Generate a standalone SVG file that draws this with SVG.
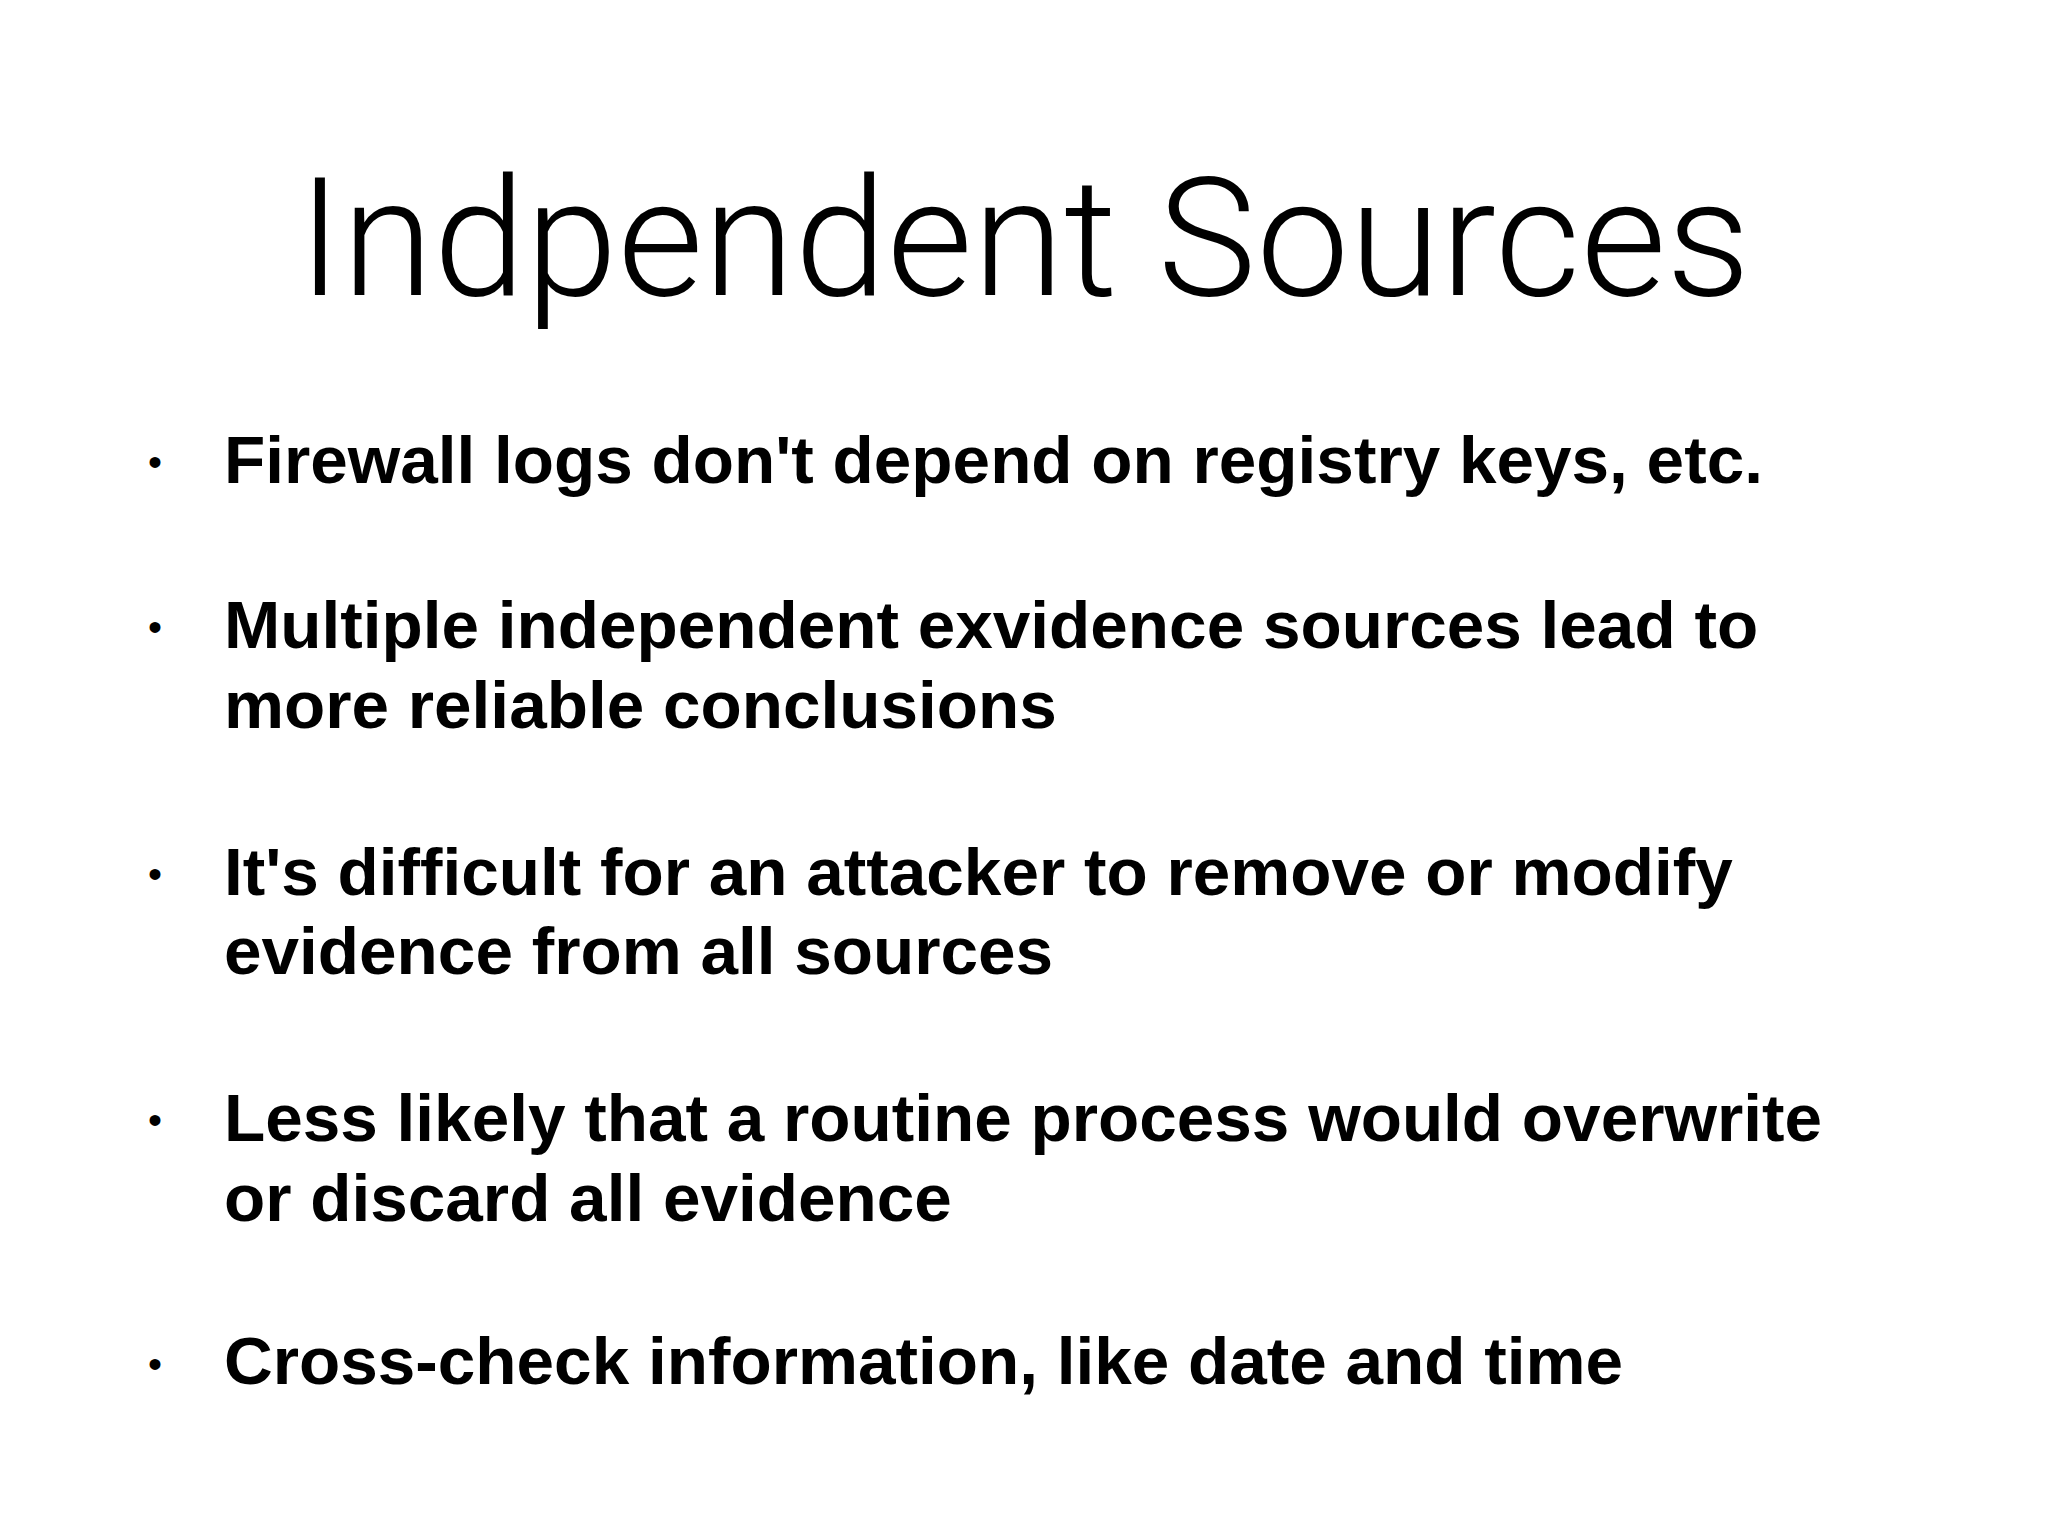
<svg xmlns="http://www.w3.org/2000/svg" width="2048" height="1536" viewBox="0 0 2048 1536">
<style>
.t{font-family:Roboto,"Liberation Sans",sans-serif;font-weight:300;font-size:166px;fill:#000}
.b{font-family:"Liberation Sans",Arial,sans-serif;font-weight:bold;font-size:67.5px;fill:#000}
.d{font-family:"Liberation Sans",Arial,sans-serif;font-size:40px;fill:#000}
</style>
<rect width="2048" height="1536" fill="#fff"/>
<text class="t" x="1024" y="295" text-anchor="middle">Indpendent Sources</text>
<g class="d">
<text x="148" y="476">•</text>
<text x="148" y="641">•</text>
<text x="148" y="888">•</text>
<text x="148" y="1134">•</text>
<text x="148" y="1378">•</text>
</g>
<g class="b">
<text x="224" y="483">Firewall logs don't depend on registry keys, etc.</text>
<text x="224" y="648">Multiple independent exvidence sources lead to</text>
<text x="224" y="728">more reliable conclusions</text>
<text x="224" y="895">It's difficult for an attacker to remove or modify</text>
<text x="224" y="974">evidence from all sources</text>
<text x="224" y="1141">Less likely that a routine process would overwrite</text>
<text x="224" y="1221">or discard all evidence</text>
<text x="224" y="1384">Cross-check information, like date and time</text>
</g>
</svg>
